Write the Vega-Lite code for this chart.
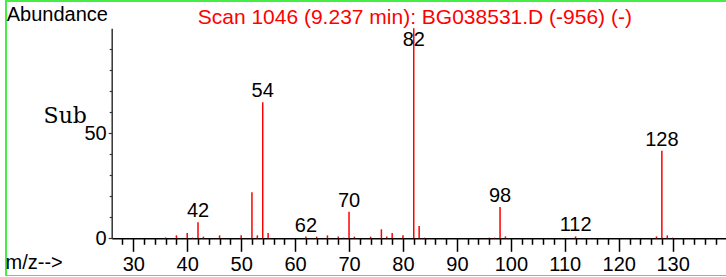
{
  "$schema": "https://vega.github.io/schema/vega-lite/v6.json",
  "width": 722,
  "height": 275,
  "autosize": {"type": "none"},
  "padding": {"left": 6, "top": 1, "right": 0, "bottom": 0},
  "background": "white",
  "config": {
    "view": {"stroke": "#44ee44", "strokeWidth": 2},
    "font": "Liberation Sans"
  },
  "title": {
    "text": "Scan 1046 (9.237 min): BG038531.D (-956) (-)",
    "color": "#ff0000",
    "fontSize": 21,
    "fontWeight": "normal",
    "font": "Liberation Sans",
    "anchor": "start",
    "frame": "group",
    "dx": 191.7,
    "baseline": "alphabetic",
    "offset": -44
  },
  "data": {
    "values": [
      {"mz": 36, "abundance": 0.4},
      {"mz": 38, "abundance": 1.4},
      {"mz": 40, "abundance": 2.5},
      {"mz": 41, "abundance": 0.3},
      {"mz": 42, "abundance": 7.6},
      {"mz": 43, "abundance": 0.8},
      {"mz": 46, "abundance": 1.4},
      {"mz": 50, "abundance": 1.4},
      {"mz": 52, "abundance": 21.9},
      {"mz": 53, "abundance": 1.4},
      {"mz": 54, "abundance": 64.8},
      {"mz": 55, "abundance": 2.5},
      {"mz": 62, "abundance": 0.8},
      {"mz": 64, "abundance": 0.8},
      {"mz": 66, "abundance": 1.4},
      {"mz": 68, "abundance": 0.8},
      {"mz": 69, "abundance": 0.3},
      {"mz": 70, "abundance": 12.7},
      {"mz": 71, "abundance": 0.8},
      {"mz": 74, "abundance": 0.8},
      {"mz": 76, "abundance": 4.3},
      {"mz": 77, "abundance": 0.8},
      {"mz": 78, "abundance": 2.5},
      {"mz": 80, "abundance": 1.4},
      {"mz": 82, "abundance": 100},
      {"mz": 83, "abundance": 5.8},
      {"mz": 84, "abundance": 0.3},
      {"mz": 96, "abundance": 0.3},
      {"mz": 97, "abundance": 0.3},
      {"mz": 98, "abundance": 14.9},
      {"mz": 99, "abundance": 0.9},
      {"mz": 112, "abundance": 0.9},
      {"mz": 127, "abundance": 0.9},
      {"mz": 128, "abundance": 41.7},
      {"mz": 129, "abundance": 1.4},
      {"mz": 130, "abundance": 0.3}
    ]
  },
  "resolve": {"axis": {"x": "independent", "y": "independent"}},
  "layer": [
    {
      "mark": {"type": "rule", "color": "#ff0000", "strokeWidth": 1.5},
      "encoding": {
        "x": {
          "field": "mz",
          "type": "quantitative",
          "scale": {"domain": [26, 140], "range": [105.7, 720.6], "nice": false, "zero": false},
          "axis": {
            "orient": "bottom",
            "values": [30, 40, 50, 60, 70, 80, 90, 100, 110, 120, 130],
            "labelOverlap": false,
            "labelFlush": false,
            "labelFontSize": 20,
            "labelColor": "black",
            "labelPadding": 3,
            "tickSize": 13,
            "tickColor": "black",
            "tickWidth": 1.5,
            "domainColor": "black",
            "domainWidth": 1.5,
            "grid": false,
            "offset": -37.7,
            "title": "m/z-->",
            "titleX": -1,
            "titleY": 30,
            "titleAlign": "left",
            "titleBaseline": "alphabetic",
            "titleFontSize": 20,
            "titleFontWeight": "normal",
            "titleColor": "black"
          }
        },
        "y": {
          "field": "abundance",
          "type": "quantitative",
          "scale": {"domain": [0, 100], "range": [237.3, 27.3], "nice": false},
          "axis": {
            "orient": "left",
            "values": [0, 50],
            "labelOverlap": false,
            "labelFlush": false,
            "labelFontSize": 20,
            "labelColor": "black",
            "labelPadding": 2,
            "tickSize": 3.5,
            "tickColor": "#333",
            "tickWidth": 1.2,
            "domainColor": "#333",
            "domainWidth": 1.5,
            "grid": false,
            "offset": -105.7,
            "title": "Abundance",
            "titleAngle": 0,
            "titleX": -105.5,
            "titleY": 19,
            "titleAlign": "left",
            "titleBaseline": "alphabetic",
            "titleFontSize": 20,
            "titleFontWeight": "normal",
            "titleColor": "black"
          }
        },
        "y2": {"datum": 0}
      }
    },
    {
      "transform": [{"filter": "indexof([42, 54, 62, 70, 98, 112, 128], datum.mz) >= 0"}],
      "mark": {"type": "text", "dy": -5, "baseline": "alphabetic", "fontSize": 20, "color": "black"},
      "encoding": {
        "x": {"field": "mz", "type": "quantitative", "axis": null},
        "y": {"field": "abundance", "type": "quantitative", "axis": null},
        "text": {"field": "mz"}
      }
    },
    {
      "transform": [{"filter": "datum.mz == 82"}],
      "mark": {"type": "text", "dy": 18, "baseline": "alphabetic", "fontSize": 20, "color": "black"},
      "encoding": {
        "x": {
          "field": "mz",
          "type": "quantitative",
          "axis": {
            "orient": "bottom",
            "values": [28, 32, 34, 36, 38, 42, 44, 46, 48, 52, 54, 56, 58, 62, 64, 66, 68, 72, 74, 76, 78, 82, 84, 86, 88, 92, 94, 96, 98, 102, 104, 106, 108, 112, 114, 116, 118, 122, 124, 126, 128, 132, 134, 136, 138],
            "labels": false,
            "domain": false,
            "grid": false,
            "title": null,
            "tickSize": 6,
            "tickColor": "black",
            "tickWidth": 1.5,
            "offset": -37.7
          }
        },
        "y": {
          "field": "abundance",
          "type": "quantitative",
          "axis": {
            "orient": "left",
            "values": [10, 20, 30, 40, 60, 70, 80, 90],
            "labels": false,
            "domain": false,
            "grid": false,
            "title": null,
            "tickSize": 2.5,
            "tickColor": "#333",
            "tickWidth": 1.2,
            "offset": -105.7
          }
        },
        "text": {"field": "mz"}
      }
    },
    {
      "data": {"values": [{"note": "Sub"}]},
      "mark": {"type": "text", "font": "DejaVu Serif", "fontWeight": "normal", "fontSize": 22, "align": "right", "baseline": "alphabetic", "color": "black"},
      "encoding": {
        "x": {"datum": 21.4, "type": "quantitative", "axis": null},
        "y": {"datum": 55.1, "type": "quantitative", "axis": null},
        "text": {"field": "note"}
      }
    }
  ]
}
